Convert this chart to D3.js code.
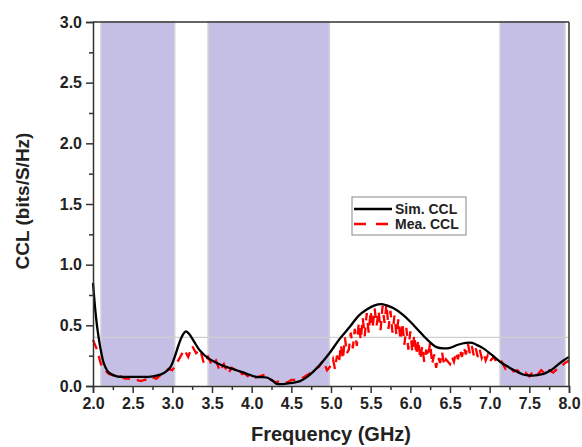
<!DOCTYPE html>
<html>
<head>
<meta charset="utf-8">
<script src="https://cdn.jsdelivr.net/npm/d3@7"></script>
<style>
  body { margin: 0; background: #fff; }
  svg text { font-family: "Liberation Sans", Arial, sans-serif; font-weight: bold; }
</style>
</head>
<body>
<div id="chart-area"></div>
<script>
// shaded bands (GHz)
const bands = [[2.1, 3.03], [3.45, 4.98], [7.13, 7.95]];
const threshold = 0.4;

// simulated CCL
const simFreq = [2.00, 2.03, 2.06, 2.10, 2.14, 2.20, 2.30, 2.40, 2.50, 2.60, 2.70, 2.80, 2.90, 2.97,
	3.03, 3.08, 3.13, 3.17, 3.21, 3.27, 3.35, 3.45, 3.56, 3.65, 3.72, 3.85, 3.94, 4.06, 4.19, 4.26,
	4.31, 4.37, 4.44, 4.55, 4.61, 4.70, 4.78, 4.88, 4.98, 5.10, 5.24, 5.35, 5.45, 5.55, 5.64, 5.72,
	5.79, 5.90, 6.00, 6.10, 6.17, 6.25, 6.33, 6.42, 6.50, 6.60, 6.70, 6.78, 6.85, 6.92, 7.02, 7.13,
	7.24, 7.34, 7.42, 7.51, 7.60, 7.68, 7.77, 7.85, 7.93, 8.00];
const simCCL = [0.85, 0.62, 0.45, 0.29, 0.18, 0.11, 0.08, 0.075, 0.075, 0.075, 0.075, 0.085, 0.11, 0.15,
	0.24, 0.34, 0.42, 0.45, 0.43, 0.37, 0.29, 0.23, 0.19, 0.165, 0.15, 0.12, 0.10, 0.075, 0.07, 0.045,
	0.02, 0.015, 0.02, 0.03, 0.04, 0.075, 0.12, 0.19, 0.27, 0.38, 0.49, 0.58, 0.63, 0.665, 0.675, 0.66,
	0.64, 0.59, 0.53, 0.46, 0.41, 0.36, 0.32, 0.31, 0.315, 0.34, 0.355, 0.355, 0.335, 0.31, 0.26, 0.20,
	0.155, 0.12, 0.095, 0.085, 0.09, 0.10, 0.13, 0.17, 0.21, 0.24];

// measured CCL
const meaFreq = [2.00, 2.05, 2.10, 2.15, 2.20, 2.25, 2.30, 2.35, 2.40, 2.45, 2.50, 2.55, 2.60, 2.65,
	2.70, 2.75, 2.80, 2.85, 2.90, 2.95, 3.00, 3.05, 3.10, 3.15, 3.20, 3.25, 3.30, 3.35, 3.40, 3.45,
	3.50, 3.55, 3.60, 3.65, 3.70, 3.75, 3.80, 3.85, 3.90, 3.95, 4.00, 4.05, 4.10, 4.15, 4.20, 4.25,
	4.30, 4.35, 4.40, 4.45, 4.50, 4.55, 4.60, 4.65, 4.70, 4.75, 4.80, 4.85, 4.90, 4.95, 5.00,
	5.025, 5.050, 5.075, 5.100, 5.125, 5.150, 5.175, 5.200, 5.225, 5.250, 5.275, 5.300, 5.325, 5.350,
	5.375, 5.400, 5.425, 5.450, 5.475, 5.500, 5.525, 5.550, 5.575, 5.600, 5.625, 5.650, 5.675, 5.700,
	5.725, 5.750, 5.775, 5.800, 5.825, 5.850, 5.875, 5.900, 5.925, 5.950, 5.975, 6.000, 6.025, 6.050,
	6.075, 6.100, 6.125, 6.150, 6.175, 6.200, 6.225, 6.250, 6.275, 6.300, 6.325, 6.350, 6.375, 6.400,
	6.425, 6.450, 6.475, 6.500, 6.525, 6.550, 6.575, 6.600, 6.625, 6.650, 6.675, 6.700, 6.725, 6.750,
	6.775, 6.800, 6.825, 6.850, 6.875, 6.900, 6.925, 6.950, 6.975, 7.000,
	7.05, 7.10, 7.15, 7.20, 7.25, 7.30, 7.35, 7.40, 7.45, 7.50, 7.55, 7.60, 7.65, 7.70, 7.75, 7.80,
	7.85, 7.90, 7.95, 8.00];
const meaCCL = [0.38, 0.30, 0.18, 0.13, 0.10, 0.09, 0.07, 0.08, 0.06, 0.06, 0.05, 0.05, 0.04, 0.05,
	0.05, 0.07, 0.06, 0.09, 0.10, 0.14, 0.13, 0.18, 0.24, 0.30, 0.24, 0.33, 0.27, 0.30, 0.18, 0.24,
	0.17, 0.21, 0.12, 0.18, 0.10, 0.15, 0.13, 0.09, 0.11, 0.08, 0.09, 0.07, 0.08, 0.09, 0.06, 0.05,
	0.03, 0.04, 0.04, 0.03, 0.05, 0.05, 0.06, 0.07, 0.09, 0.11, 0.14, 0.16, 0.21, 0.13, 0.17,
	0.22, 0.14, 0.25, 0.19, 0.34, 0.22, 0.40, 0.27, 0.30, 0.44, 0.31, 0.47, 0.33, 0.52,
	0.38, 0.56, 0.41, 0.60, 0.44, 0.62, 0.48, 0.64, 0.50, 0.62, 0.46, 0.66, 0.52, 0.68,
	0.47, 0.62, 0.44, 0.58, 0.42, 0.55, 0.38, 0.52, 0.34, 0.48, 0.30, 0.45, 0.28, 0.42,
	0.26, 0.38, 0.22, 0.33, 0.20, 0.30, 0.24, 0.36, 0.18, 0.26, 0.15, 0.24, 0.19, 0.28,
	0.17, 0.22, 0.20, 0.18, 0.24, 0.20, 0.28, 0.22, 0.30, 0.24, 0.32, 0.26, 0.35, 0.27,
	0.33, 0.25, 0.31, 0.24, 0.30, 0.23, 0.27, 0.21, 0.25, 0.20,
	0.24, 0.18, 0.20, 0.14, 0.16, 0.12, 0.13, 0.10, 0.11, 0.08, 0.12, 0.09, 0.13, 0.10, 0.13, 0.11,
	0.14, 0.16, 0.19, 0.21];

const legendLabels = ["Sim. CCL", "Mea. CCL"];

const margin = { left: 93, right: 13, top: 22, bottom: 61 };
const width = 582 - margin.left - margin.right;
const height = 447 - margin.top - margin.bottom;

const svg = d3.select("#chart-area").append("svg")
	.attr("width", 582)
	.attr("height", 447);

const g = svg.append("g")
	.attr("transform", `translate(${margin.left},${margin.top})`);

const x = d3.scaleLinear().domain([2, 8]).range([0, width]);
const y = d3.scaleLinear().domain([0, 3]).range([height, 0]);

// bands
g.selectAll("rect.band").data(bands).enter()
	.append("rect")
	.attr("class", "band")
	.attr("x", d => x(d[0]))
	.attr("y", 0)
	.attr("width", d => x(d[1]) - x(d[0]))
	.attr("height", height)
	.attr("fill", "#c5bfe6")
	.attr("stroke", "#d4d4d8")
	.attr("stroke-width", 1.5);

// threshold line
g.append("line")
	.attr("x1", 0).attr("x2", width)
	.attr("y1", y(threshold)).attr("y2", y(threshold))
	.attr("stroke", "#cfcfcf")
	.attr("stroke-width", 1.3);

const simData = simFreq.map((f, i) => [f, simCCL[i]]);
const meaData = meaFreq.map((f, i) => [f, meaCCL[i]]);

g.append("path")
	.datum(meaData)
	.attr("fill", "none")
	.attr("stroke", "#ff0000")
	.attr("stroke-width", 2.3)
	.attr("stroke-dasharray", "10,7")
	.attr("d", d3.line().x(d => x(d[0])).y(d => y(d[1])));

g.append("path")
	.datum(simData)
	.attr("fill", "none")
	.attr("stroke", "#000")
	.attr("stroke-width", 2.3)
	.attr("d", d3.line().x(d => x(d[0])).y(d => y(d[1])).curve(d3.curveCatmullRom));

// frame
g.append("line").attr("x1", 0).attr("x2", width).attr("y1", 0).attr("y2", 0)
	.attr("stroke", "#333").attr("stroke-width", 1.5);
g.append("line").attr("x1", width).attr("x2", width).attr("y1", 0).attr("y2", height)
	.attr("stroke", "#333").attr("stroke-width", 1.5);

// minor ticks
g.append("g")
	.attr("transform", `translate(0,${height})`)
	.call(d3.axisBottom(x).tickValues(d3.range(2.25, 8, 0.5)).tickSize(4).tickFormat(""))
	.call(a => a.select(".domain").remove());
g.append("g")
	.call(d3.axisLeft(y).tickValues(d3.range(0.25, 3, 0.5)).tickSize(4).tickFormat(""))
	.call(a => a.select(".domain").remove());

const xAxis = g.append("g")
	.attr("transform", `translate(0,${height})`)
	.call(d3.axisBottom(x).ticks(12).tickSize(7).tickPadding(5).tickFormat(d3.format(".1f")));
const yAxis = g.append("g")
	.call(d3.axisLeft(y).ticks(6).tickSize(7).tickPadding(4).tickFormat(d3.format(".1f")));

[xAxis, yAxis].forEach(a => {
	a.selectAll("path, line").attr("stroke", "#333").attr("stroke-width", 1.5);
	a.selectAll("text").attr("font-size", 16).attr("fill", "#222");
});
g.selectAll(".tick line").attr("stroke", "#333").attr("stroke-width", 1.5);

g.append("text")
	.attr("x", width / 2)
	.attr("y", height + 55)
	.attr("text-anchor", "middle")
	.attr("font-size", 20)
	.attr("fill", "#222")
	.text("Frequency (GHz)");

g.append("text")
	.attr("x", -(height / 2) + 3)
	.attr("y", -64)
	.attr("text-anchor", "middle")
	.attr("transform", "rotate(-90)")
	.attr("font-size", 19)
	.attr("fill", "#222")
	.text("CCL (bits/S/Hz)");

// legend
const legend = svg.append("g").attr("transform", "translate(352,197)");
legend.append("rect")
	.attr("width", 114).attr("height", 38)
	.attr("fill", "#fff").attr("stroke", "#888").attr("stroke-width", 1);
legendLabels.forEach((label, i) => {
	const ly = 12 + i * 15;
	legend.append("line")
		.attr("x1", 2).attr("x2", 40).attr("y1", ly).attr("y2", ly)
		.attr("stroke", i === 0 ? "#000" : "#ff0000")
		.attr("stroke-width", 2.3)
		.attr("stroke-dasharray", i === 0 ? null : "12,10");
	legend.append("text")
		.attr("x", 43).attr("y", ly + 5)
		.attr("font-size", 14)
		.attr("fill", "#222")
		.text(label);
});
</script>
</body>
</html>
